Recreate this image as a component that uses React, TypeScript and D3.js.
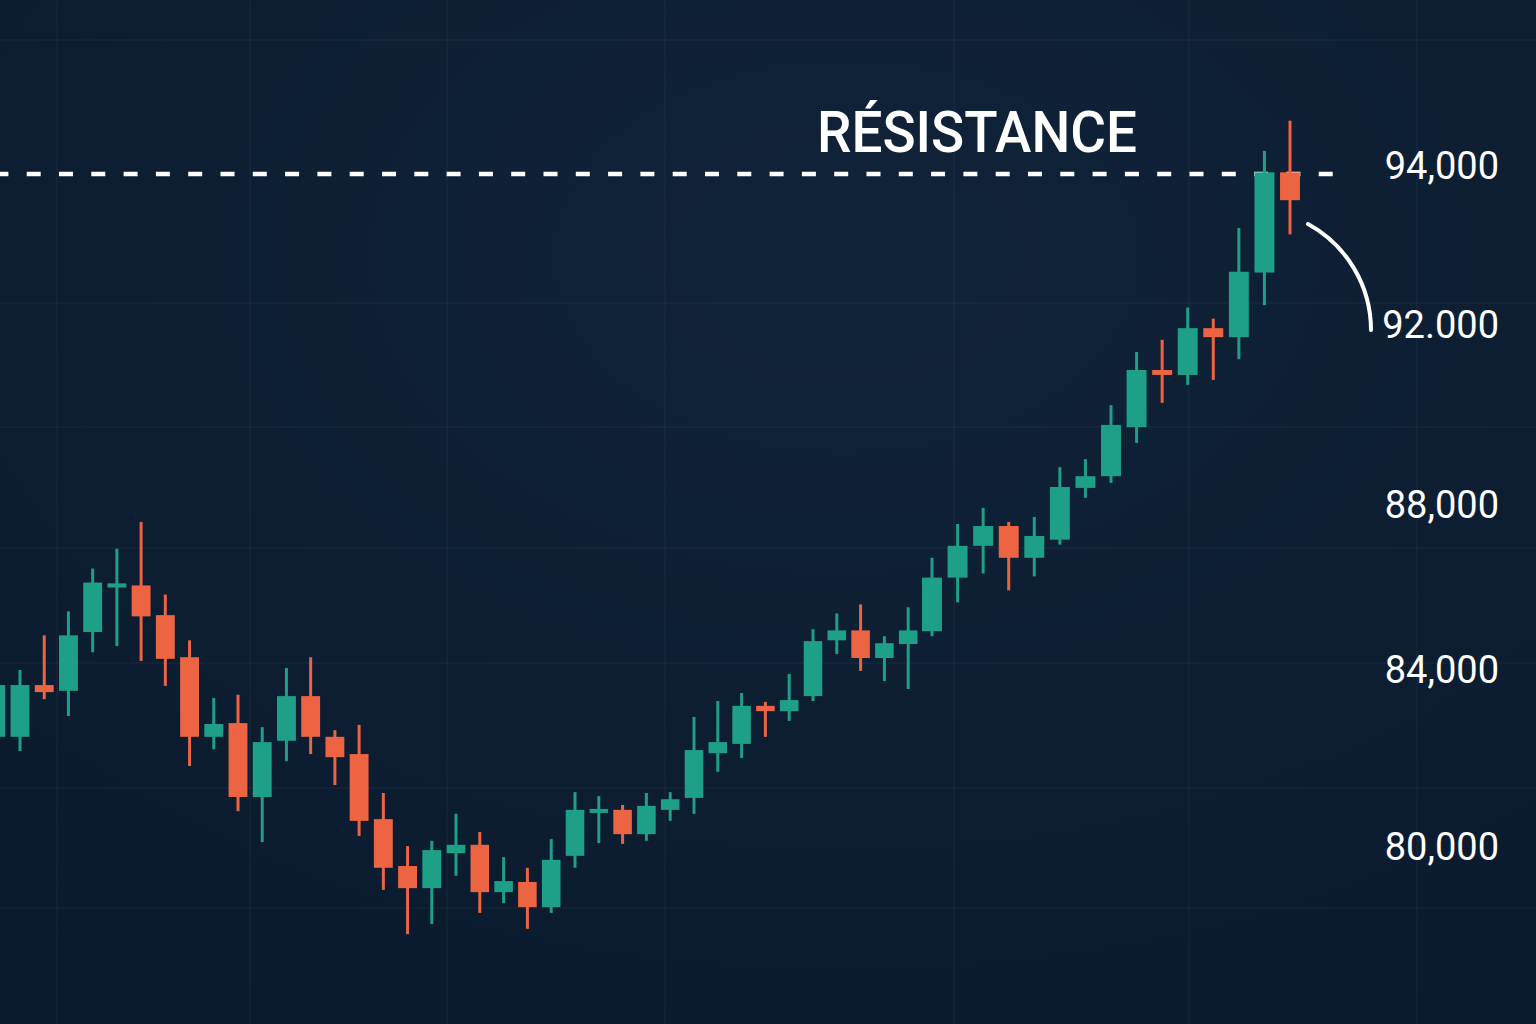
import React, { useEffect } from "react";
import * as d3 from "d3";

// ---- Data ----
const candleIndex = [
  0, 1, 2, 3, 4, 5, 6, 7, 8, 9, 10, 11, 12, 13, 14, 15, 16, 17, 18, 19, 20, 21, 22, 23, 24, 25, 26,
  27, 28, 29, 30, 31, 32, 33, 34, 35, 36, 37, 38, 39, 40, 41, 42, 43, 44, 45, 46, 47, 48, 49, 50, 51,
  52, 53,
];
const opens = [
  82490, 82490, 83660, 83530, 84920, 86000, 86050, 85330, 84310, 82490, 82800, 81130, 82400, 83410,
  82490, 82100, 80630, 79570, 79070, 79860, 80050, 78980, 79210, 78640, 79800, 80770, 80840, 80290,
  80840, 81110, 82120, 82330, 83190, 83070, 83410, 84720, 84960, 84290, 84630, 84940, 86240, 87010,
  87490, 86720, 87160, 88380, 88640, 89730, 91000, 90890, 91930, 91730, 92660, 93920,
];
const highs = [
  83980, 84000, 84840, 85420, 86460, 86940, 87590, 85830, 84720, 83370, 83440, 82710, 84050, 84310,
  82640, 82760, 81220, 80020, 80140, 80750, 80340, 79770, 79530, 80180, 81240, 81150, 80950, 81220,
  81240, 82940, 83300, 83480, 83280, 83910, 84990, 85370, 85590, 84820, 85520, 86720, 87540, 87930,
  87590, 87710, 88840, 89020, 90220, 91400, 91670, 92220, 92080, 93220, 94190, 94570,
];
const lows = [
  82330, 82170, 83340, 82960, 84430, 84580, 84220, 83640, 81830, 82210, 80810, 80110, 81940, 82100,
  81400, 80250, 79030, 78030, 78260, 79350, 78510, 78730, 78150, 78510, 79530, 80090, 80070, 80140,
  80590, 80750, 81700, 82010, 82490, 82850, 83300, 84390, 83980, 83750, 83570, 84820, 85640, 86340,
  85930, 86270, 87040, 88160, 88490, 89380, 90270, 90670, 90780, 91240, 92250, 93140,
];
const closes = [
  83660, 83660, 83500, 84840, 86120, 86100, 85300, 84270, 82490, 82780, 81130, 82370, 83410, 82490,
  82030, 80590, 79530, 79070, 79930, 80050, 78980, 79230, 78640, 79710, 80840, 80860, 80290, 80930,
  81080, 82190, 82370, 83190, 83070, 83320, 84700, 84960, 84290, 84650, 84960, 86240, 87010, 87490,
  86720, 87250, 88400, 88640, 89780, 91000, 90890, 91930, 91730, 92670, 93920, 93570,
];

const tickValues = [80000, 84000, 88000, 92000, 94000];
const tickLabels = ["80,000", "84,000", "88,000", "92.000", "94,000"];
const resistanceLevel = 93900;
const resistanceLabel = "RÉSISTANCE";

const W = 1536;
const H = 1024;

const UP = "#1e9f87";
const DOWN = "#ec6441";

export default function App() {
  useEffect(() => {
    document.body.style.margin = "0";
    document.body.style.background = "#0b1b30";
  }, []);

  // price axis as drawn in the picture (labels are not evenly spaced)
  const y = d3
    .scaleLinear()
    .domain([80000, 84000, 88000, 92000, 94000])
    .range([847, 670, 505, 325, 166]);

  const x = d3.scaleLinear().domain([1, 19, 39, 53]).range([20, 456, 932, 1290]);

  const candles = candleIndex.map((i, k) => ({
    i,
    o: opens[k],
    h: highs[k],
    l: lows[k],
    c: closes[k],
  }));

  // decorative background grid
  const gridX = [57, 250, 447, 665, 954, 1189, 1417];
  const gridY = [40, 303, 427, 548, 663, 788, 908];

  const resY = y(resistanceLevel);

  return (
    <svg width={W} height={H} viewBox={`0 0 ${W} ${H}`} style={{ display: "block" }}>
      <defs>
        <radialGradient id="bg" cx="0.55" cy="0.25" r="0.85">
          <stop offset="0" stopColor="#112339" />
          <stop offset="1" stopColor="#0a1a2e" />
        </radialGradient>
      </defs>
      <rect x={0} y={0} width={W} height={H} fill="url(#bg)" />
      <g stroke="#ffffff" strokeOpacity={0.06} strokeWidth={1}>
        {gridX.map((gx) => (
          <line key={"gx" + gx} x1={gx} x2={gx} y1={0} y2={H} />
        ))}
        {gridY.map((gy) => (
          <line key={"gy" + gy} x1={0} x2={W} y1={gy} y2={gy} />
        ))}
      </g>

      {/* resistance line */}
      <line
        x1={0}
        x2={1335}
        y1={resY}
        y2={resY}
        stroke="#ffffff"
        strokeWidth={4.5}
        strokeDasharray="14 18.3"
        strokeDashoffset={5.6}
      />

      {/* candles */}
      <g>
        {candles.map((d) => {
          const cx = x(d.i);
          const step = x(d.i + 1) - x(d.i);
          const bw = step * 0.78;
          const up = d.c >= d.o;
          const col = up ? UP : DOWN;
          const top = y(Math.max(d.o, d.c));
          const bot = y(Math.min(d.o, d.c));
          return (
            <g key={d.i}>
              <line x1={cx} x2={cx} y1={y(d.h)} y2={y(d.l)} stroke={col} strokeWidth={3} />
              <rect x={cx - bw / 2} y={top} width={bw} height={Math.max(3, bot - top)} fill={col} />
            </g>
          );
        })}
      </g>

      {/* label */}
      <text
        x={817}
        y={152}
        fill="#ffffff"
        fontFamily="Roboto, 'Noto Sans', sans-serif"
        fontWeight={500}
        fontSize={58}
        textLength={320}
        lengthAdjust="spacingAndGlyphs"
      >
        {resistanceLabel}
      </text>

      {/* arrow arc */}
      <path
        d="M1308,224 A121,121 0 0 1 1371,330"
        fill="none"
        stroke="#ffffff"
        strokeWidth={4}
        strokeLinecap="round"
      />

      {/* price labels */}
      <g fontFamily="Roboto, 'Liberation Sans', sans-serif" fontSize={38} fill="#ffffff">
        {tickValues.map((v, k) => (
          <text key={v} x={1499} y={y(v)} textAnchor="end" dominantBaseline="central">
            {tickLabels[k]}
          </text>
        ))}
      </g>
    </svg>
  );
}
